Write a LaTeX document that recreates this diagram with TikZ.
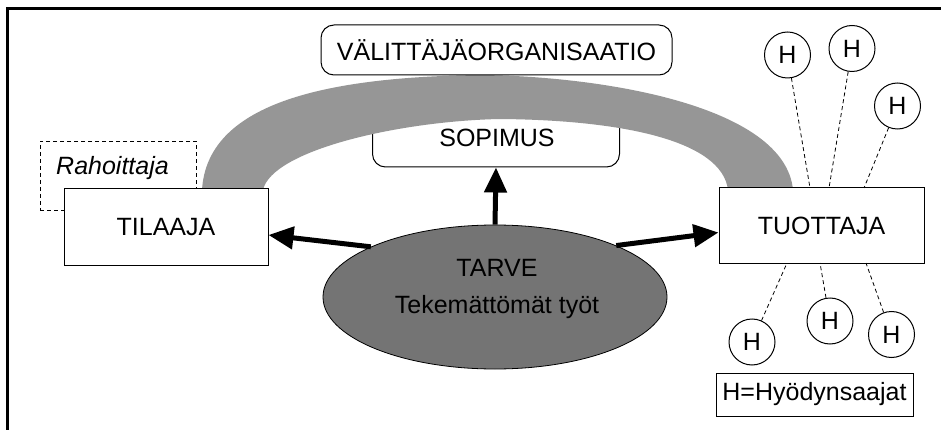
\documentclass[tikz,border=0pt]{standalone}
\usepackage{fontspec}
\setmainfont{Liberation Sans}
\usetikzlibrary{arrows.meta,shapes.geometric}
\definecolor{bandgray}{RGB}{150,150,150}
\definecolor{ellgray}{RGB}{116,116,116}
\tikzset{
  lbl/.style={font=\fontsize{25}{30}\selectfont, inner sep=0pt},
  boxnode/.style={draw, line width=1pt, fill=white, lbl},
  roundbox/.style={draw, line width=1pt, fill=white, rounded corners=13pt, lbl},
  hcircle/.style={draw, circle, line width=1pt, fill=white, minimum size=46pt, lbl},
  hline/.style={dashed, dash pattern=on 4pt off 3pt, line width=0.8pt},
  bigarrow/.style={line width=5pt, -{Triangle[length=25pt,width=22pt]}}
}
\begin{document}
\begin{tikzpicture}[x=1pt,y=-1pt]
\useasboundingbox (0,0) rectangle (941,430);
% frame
\draw[line width=3pt] (7,430) -- (7,8.5) -- (941,8.5);
% sopimus box (behind the band)
\node[roundbox, minimum width=247pt, minimum height=62pt] (sopimus) at (496,136) {};
\node[lbl] (sopimustext) at (497,138) {SOPIMUS};
% band
\fill[bandgray] (202,190) .. controls (207,105) and (320,77) .. (480,75)
  .. controls (600,76) and (785,105) .. (793,190)
  -- (728,190) .. controls (722,140) and (620,120) .. (500,119)
  .. controls (400,121) and (272,150) .. (263,190) -- cycle;
% valittaja box
\node[roundbox, minimum width=351pt, minimum height=50pt] (valittaja) at (496.5,50) {VÄLITTÄJÄORGANISAATIO};
% rahoittaja
\node[draw, dashed, dash pattern=on 4pt off 3pt, line width=0.8pt, minimum width=156pt, minimum height=69pt, inner sep=0pt] (rahoittaja) at (118,175.5) {};
\node[lbl, font=\fontsize{25}{30}\selectfont\itshape] (rahoittajatext) at (112.5,168) {Rahoittaja};
% tilaaja, tuottaja
\node[boxnode, minimum width=204pt, minimum height=76pt] (tilaaja) at (166,227) {TILAAJA};
\node[boxnode, minimum width=205pt, minimum height=75pt] (tuottaja) at (821.5,225.5) {TUOTTAJA};
% ellipse
\node[draw, ellipse, fill=ellgray, line width=0.8pt, minimum width=344pt, minimum height=144pt, inner sep=0pt] (tarve) at (495,297) {};
\node[lbl] (tarvetext) at (497,268) {TARVE};
\node[lbl] (tekemtext) at (497,307) {Tekemättömät työt};
% arrows
\draw[bigarrow] (tarve.158) -- ([yshift=-8pt]tilaaja.east);
\draw[bigarrow] (tarve.23) -- ([yshift=-7pt]tuottaja.west);
\draw[bigarrow] (tarve.north) -- (sopimus.south);
% H circles
\node[hcircle] (h1) at (787.5,55) {H};
\node[hcircle] (h2) at (852,48.5) {H};
\node[hcircle] (h3) at (897.5,106) {H};
\node[hcircle] (h4) at (752,342) {H};
\node[hcircle] (h5) at (830,321) {H};
\node[hcircle] (h6) at (891.5,334.5) {H};
\coordinate (t1) at (810,188);
\coordinate (t2) at (829,188);
\coordinate (t3) at (864,188);
\coordinate (b1) at (787,263);
\coordinate (b2) at (820,263);
\coordinate (b3) at (866,263);
\draw[hline] (h1) -- (t1);
\draw[hline] (h2) -- (t2);
\draw[hline] (h3) -- (t3);
\draw[hline] (h4) -- (b1);
\draw[hline] (h5) -- (b2);
\draw[hline] (h6) -- (b3);
% legend
\node[boxnode, line width=0.9pt, minimum width=197pt, minimum height=43pt] (legend) at (814.5,394.5) {H=Hyödynsaajat};
\end{tikzpicture}
\end{document}
